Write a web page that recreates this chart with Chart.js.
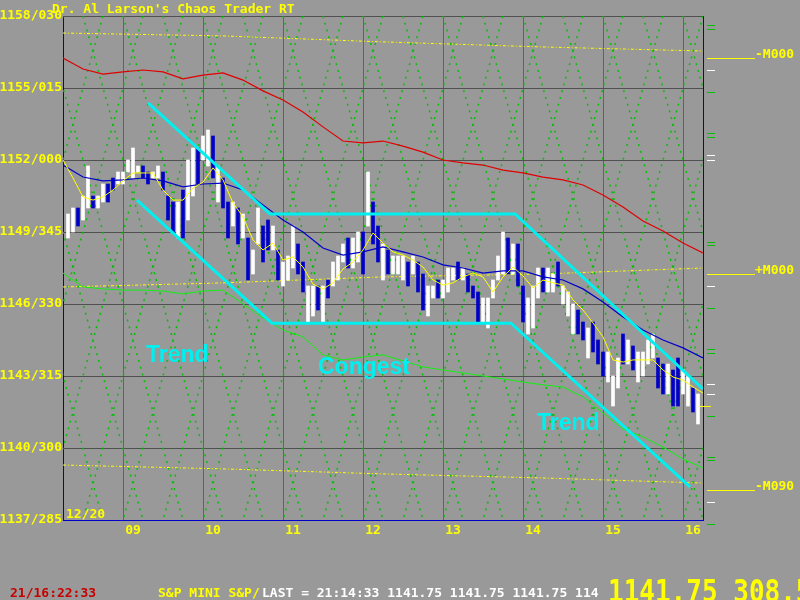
<!DOCTYPE html>
<html lang="en">
<head>
<meta charset="UTF-8">
<title>Chaos Trader RT - S&amp;P Mini</title>
<script src="https://cdn.jsdelivr.net/npm/chart.js@4.4.1/dist/chart.umd.min.js"></script>
<style>
    body { margin: 0; background-color: #999999; }
    #wrap { width: 800px; height: 600px; }
</style>
</head>
<body>
<div id="wrap"><canvas id="chaosChart" width="800" height="600"></canvas></div>
<script>
    // axis ticks (x = day of month)
    var dayTicks = [9, 10, 11, 12, 13, 14, 15, 16];
    var dayLabels = ['09', '10', '11', '12', '13', '14', '15', '16'];
    var priceTicks = [1137, 1140, 1143, 1146, 1149, 1152, 1155, 1158];
    var priceLabels = ['1137/285', '1140/300', '1143/315', '1146/330', '1149/345', '1152/000', '1155/015', '1158/030'];

    // price bars, one every 1.5 hours
    var barStart = 8.3125, barStep = 0.0625;
    var highs = [1149.75, 1150.0, 1150.0, 1150.5, 1151.75, 1150.5, 1150.5, 1151.0, 1151.0, 1151.25,
        1151.5, 1151.5, 1152.0, 1152.5, 1151.75, 1151.75, 1151.5, 1151.5, 1151.75, 1151.5,
        1150.5, 1150.25, 1150.25, 1150.75, 1152.0, 1152.5, 1152.5, 1153.0, 1153.25, 1153.0,
        1151.75, 1151.25, 1150.25, 1150.25, 1150.0, 1149.75, 1148.75, 1148.25, 1150.0, 1149.25,
        1149.5, 1149.25, 1148.25, 1147.75, 1148.0, 1149.25, 1148.5, 1147.75, 1146.75, 1146.75,
        1146.75, 1146.75, 1147.0, 1147.75, 1148.0, 1148.5, 1148.75, 1148.75, 1149.0, 1149.0,
        1151.5, 1150.25, 1149.25, 1148.5, 1148.25, 1148.0, 1148.0, 1148.0, 1147.75, 1148.0,
        1147.75, 1147.25, 1146.75, 1146.75, 1147.0, 1147.0, 1147.5, 1147.5, 1147.75, 1147.5,
        1147.25, 1146.75, 1146.5, 1146.25, 1146.25, 1147.0, 1148.0, 1149.0, 1148.75, 1148.5,
        1148.5, 1146.75, 1146.25, 1146.75, 1147.5, 1147.5, 1147.5, 1147.25, 1147.75, 1146.75,
        1146.5, 1146.0, 1145.75, 1145.25, 1145.0, 1145.25, 1144.5, 1144.0, 1144.0, 1143.0,
        1143.75, 1144.75, 1144.5, 1144.25, 1144.0, 1144.0, 1144.5, 1144.75, 1143.75, 1143.5,
        1143.5, 1143.25, 1143.75, 1143.25, 1143.0, 1142.5, 1142.25];
    var lows = [1148.75, 1149.0, 1149.25, 1149.5, 1150.0, 1150.0, 1150.0, 1150.25, 1150.25, 1150.75,
        1151.0, 1151.0, 1151.5, 1151.25, 1151.5, 1151.25, 1151.0, 1151.25, 1151.25, 1150.75,
        1149.5, 1149.0, 1148.75, 1148.75, 1149.5, 1150.5, 1151.0, 1152.0, 1151.75, 1151.25,
        1150.25, 1150.0, 1148.75, 1149.25, 1148.5, 1148.75, 1147.0, 1147.25, 1148.5, 1147.75,
        1148.25, 1148.25, 1147.0, 1146.75, 1147.0, 1147.5, 1147.25, 1146.5, 1145.25, 1145.5,
        1145.75, 1145.25, 1146.25, 1146.75, 1147.0, 1147.75, 1147.5, 1147.5, 1147.75, 1147.25,
        1149.25, 1148.5, 1147.75, 1147.0, 1147.25, 1147.25, 1147.25, 1147.0, 1146.75, 1147.25,
        1146.5, 1145.75, 1145.5, 1146.25, 1146.25, 1146.25, 1146.5, 1147.0, 1147.0, 1147.0,
        1146.5, 1146.25, 1145.25, 1145.25, 1145.0, 1146.25, 1147.0, 1147.25, 1147.25, 1147.25,
        1146.75, 1145.25, 1144.75, 1145.0, 1146.25, 1146.5, 1146.5, 1146.5, 1146.75, 1146.0,
        1145.5, 1144.75, 1144.75, 1144.5, 1143.75, 1144.0, 1143.5, 1143.0, 1142.75, 1141.75,
        1142.5, 1143.5, 1143.5, 1143.25, 1142.75, 1143.0, 1143.5, 1143.75, 1142.5, 1142.25,
        1142.25, 1141.75, 1141.75, 1142.25, 1141.75, 1141.5, 1141.0];
    // 1 = up bar (white), 0 = down bar (blue)
    var upBars = [1, 1, 0, 1, 1, 0, 1, 1, 0, 0,
        1, 1, 1, 1, 1, 0, 0, 1, 1, 0,
        0, 0, 1, 0, 1, 1, 0, 1, 1, 0,
        1, 0, 0, 1, 0, 1, 0, 1, 1, 0,
        0, 1, 0, 1, 1, 1, 0, 0, 1, 1,
        0, 1, 0, 1, 1, 1, 0, 1, 1, 0,
        1, 0, 0, 1, 0, 1, 1, 1, 0, 1,
        0, 0, 1, 1, 0, 1, 1, 1, 0, 1,
        0, 0, 0, 1, 1, 1, 1, 1, 0, 1,
        0, 0, 1, 1, 1, 0, 1, 1, 0, 1,
        1, 1, 0, 0, 1, 0, 0, 0, 1, 1,
        1, 0, 1, 0, 1, 1, 1, 1, 0, 0,
        1, 0, 0, 1, 1, 0, 1];

    // averages, slow ones sampled every 6 hours, fast one every 3 hours
    var avgStart = 8.25, slowStep = 0.25, fastStep = 0.125;
    var redAvg = [1156.25, 1155.79, 1155.58, 1155.67, 1155.75, 1155.67, 1155.38, 1155.54, 1155.63, 1155.33,
        1154.88, 1154.5, 1154.0, 1153.38, 1152.79, 1152.71, 1152.79, 1152.58, 1152.33, 1152.0,
        1151.88, 1151.79, 1151.58, 1151.46, 1151.29, 1151.17, 1150.96, 1150.54, 1150.04, 1149.46,
        1149.04, 1148.54, 1148.13];
    var blueAvg = [1151.79, 1151.29, 1151.13, 1151.17, 1151.25, 1151.13, 1150.88, 1151.0, 1151.04, 1150.75,
        1150.13, 1149.5, 1149.0, 1148.33, 1148.04, 1148.17, 1148.38, 1148.17, 1147.96, 1147.63,
        1147.5, 1147.29, 1147.38, 1147.38, 1147.13, 1147.0, 1146.63, 1146.08, 1145.46, 1144.92,
        1144.5, 1144.17, 1143.75];
    var greenLine = [1147.29, 1146.71, 1146.63, 1146.58, 1146.58, 1146.54, 1146.42, 1146.54, 1146.58, 1146.0,
        1145.42, 1144.92, 1144.63, 1143.88, 1143.67, 1143.79, 1143.88, 1143.63, 1143.38, 1143.25,
        1143.13, 1143.0, 1142.88, 1142.75, 1142.63, 1142.54, 1142.13, 1141.46, 1140.79, 1140.46,
        1140.04, 1139.54, 1139.17];
    var yellowAvg = [1152.0, 1151.25, 1150.46, 1150.33, 1150.46, 1150.75, 1151.13, 1151.46, 1151.46, 1151.46,
        1150.75, 1150.33, 1150.33, 1150.83, 1151.08, 1151.67, 1151.17, 1150.21, 1149.63, 1148.67,
        1148.25, 1148.54, 1147.83, 1147.96, 1147.54, 1146.83, 1146.63, 1146.88, 1147.46, 1147.75,
        1148.25, 1148.96, 1148.54, 1148.17, 1148.04, 1147.83, 1147.54, 1147.0, 1146.79, 1146.88,
        1147.13, 1147.29, 1147.13, 1146.5, 1147.13, 1147.54, 1147.17, 1146.67, 1147.0, 1146.88,
        1146.79, 1146.17, 1145.75, 1145.21, 1144.63, 1143.67, 1143.58, 1143.67, 1143.67, 1143.67,
        1143.25, 1142.96, 1142.83, 1142.54, 1142.29];

    // dotted harmonic levels
    var harmTimes = [8.25, 10.25, 12.25, 14.25, 16.25];
    var harmTop = [1157.29, 1157.17, 1156.92, 1156.71, 1156.54];
    var harmMid = [1146.71, 1146.88, 1147.13, 1147.25, 1147.5];
    var harmLow = [1139.29, 1139.13, 1138.92, 1138.75, 1138.54];

    // trend channel
    var chanTopTimes = [9.3125, 10.8375, 13.9, 16.25];
    var chanTopPrices = [1154.38, 1149.75, 1149.75, 1142.46];
    var chanLowTimes = [9.175, 10.8625, 13.85, 16.0875];
    var chanLowPrices = [1150.33, 1145.2, 1145.2, 1138.38];

    // notes on the chart
    var noteTexts = ['Trend', 'Congest', 'Trend'];
    var noteTimes = [9.2875, 11.4375, 14.175];
    var notePrices = [1143.58, 1143.08, 1140.75];

    // right side levels
    var mLevels = [1156.25, 1147.25, 1138.25];
    var mLabels = ['-M000', '+M000', '-M090'];
    var greenMarks = [1157.63, 1157.46, 1154.83, 1153.13, 1152.96, 1148.58, 1148.46, 1145.83, 1144.13, 1143.96, 1141.33, 1139.63, 1139.5, 1136.83];
    var whiteMarks = [1155.75, 1152.21, 1152.0, 1146.75, 1142.67, 1142.25, 1137.75];
    var lastPrice = 1141.75;

    var titleText = "Dr. Al Larson's Chaos Trader RT";
    var dateStamp = '12/20';
    var clockText = '21/16:22:33';
    var symbolText = 'S&P MINI S&P/';
    var quoteText = 'LAST = 21:14:33 1141.75 1141.75 1141.75 114';
    var bigQuote = '1141.75 308.5';

    var mono = 'DejaVu Sans Mono, monospace';
    var yellow = '#ffff00';

    function series(start, step, values) {
        return values.map(function(v, i) { return {x: start + i * step, y: v}; });
    }
    function pairs(times, values) {
        return times.map(function(t, i) { return {x: t, y: values[i]}; });
    }
    function lineSet(data, color, width, order, dash) {
        return {type: 'line', data: data, borderColor: color, borderWidth: width, borderDash: dash || [],
            pointRadius: 0, tension: 0, fill: false, order: order};
    }

    var barData = highs.map(function(h, i) { return {x: barStart + i * barStep, y: [lows[i], h]}; });

    // background lattice and all the screen text
    var decor = {
        id: 'decor',
        beforeDatasetsDraw: function(chart) {
            var ctx = chart.ctx, a = chart.chartArea;
            var run = (a.bottom - a.top) / 3.6;
            ctx.save();
            ctx.beginPath();
            ctx.rect(a.left, a.top, a.right - a.left, a.bottom - a.top);
            ctx.clip();
            ctx.strokeStyle = '#00c000';
            ctx.lineWidth = 1.5;
            ctx.setLineDash([2, 5]);
            for (var x = a.left - run; x < a.right + run; x += 40) {
                ctx.beginPath(); ctx.moveTo(x, a.top); ctx.lineTo(x + run, a.bottom); ctx.stroke();
                ctx.beginPath(); ctx.moveTo(x + 20, a.top); ctx.lineTo(x + 20 - run, a.bottom); ctx.stroke();
            }
            ctx.restore();
        },
        afterDraw: function(chart) {
            var ctx = chart.ctx, a = chart.chartArea, ys = chart.scales.y, xs = chart.scales.x;
            ctx.save();
            // right border
            ctx.strokeStyle = '#0000c8';
            ctx.lineWidth = 1;
            ctx.beginPath(); ctx.moveTo(a.right + 0.5, a.top); ctx.lineTo(a.right + 0.5, a.bottom); ctx.stroke();

            // small marks right of the chart
            greenMarks.forEach(function(p) {
                var y = Math.round(ys.getPixelForValue(p)) + 0.5;
                ctx.strokeStyle = '#00c000';
                ctx.beginPath(); ctx.moveTo(a.right + 4, y); ctx.lineTo(a.right + 12, y); ctx.stroke();
            });
            whiteMarks.forEach(function(p) {
                var y = Math.round(ys.getPixelForValue(p)) + 0.5;
                ctx.strokeStyle = '#ffffff';
                ctx.beginPath(); ctx.moveTo(a.right + 4, y); ctx.lineTo(a.right + 12, y); ctx.stroke();
            });

            // M levels
            ctx.font = 'bold 13px ' + mono;
            ctx.textBaseline = 'alphabetic';
            ctx.textAlign = 'left';
            mLevels.forEach(function(p, i) {
                var y = Math.round(ys.getPixelForValue(p)) + 0.5;
                ctx.strokeStyle = yellow;
                ctx.beginPath(); ctx.moveTo(a.right + 4, y); ctx.lineTo(a.right + 52, y); ctx.stroke();
                ctx.fillStyle = yellow;
                ctx.fillText(mLabels[i], a.right + 52, y - 1);
            });

            // last price tick
            var ly = Math.round(ys.getPixelForValue(lastPrice)) + 0.5;
            ctx.strokeStyle = yellow;
            ctx.beginPath(); ctx.moveTo(a.right - 3, ly); ctx.lineTo(a.right + 8, ly); ctx.stroke();

            // chart notes
            ctx.fillStyle = '#00f0f0';
            ctx.font = 'bold 23px "Liberation Sans", Arial, sans-serif';
            noteTexts.forEach(function(t, i) {
                ctx.fillText(t, xs.getPixelForValue(noteTimes[i]), ys.getPixelForValue(notePrices[i]));
            });

            // title, date, status line
            ctx.font = 'bold 13px ' + mono;
            ctx.fillStyle = yellow;
            ctx.fillText(titleText, 52, 13);
            ctx.fillText(dateStamp, a.left + 3, a.bottom - 2);
            ctx.fillStyle = '#c80000';
            ctx.fillText(clockText, 10, 597);
            ctx.fillStyle = yellow;
            ctx.fillText(symbolText, 158, 597);
            ctx.fillStyle = '#ffffff';
            ctx.fillText(quoteText, 262, 597);
            ctx.fillStyle = yellow;
            ctx.font = 'bold 26px ' + mono;
            ctx.translate(608, 602);
            ctx.scale(1, 1.2);
            ctx.fillText(bigQuote, 0, 0);
            ctx.restore();
        }
    };

    var ctx = document.getElementById('chaosChart').getContext('2d');
    var chaosChart = new Chart(ctx, {
        type: 'line',
        data: {
            datasets: [
                lineSet(pairs(harmTimes, harmTop), yellow, 1, 20, [3, 2, 1, 2]),
                lineSet(pairs(harmTimes, harmMid), yellow, 1, 20, [3, 2, 1, 2]),
                lineSet(pairs(harmTimes, harmLow), yellow, 1, 20, [3, 2, 1, 2]),
                lineSet(series(avgStart, slowStep, greenLine), '#10f010', 1, 15),
                {
                    type: 'bar',
                    data: barData,
                    backgroundColor: upBars.map(function(u) { return u ? '#ffffff' : '#0000c8'; }),
                    borderWidth: 0,
                    barThickness: 3,
                    grouped: false,
                    order: 10
                },
                lineSet(series(avgStart, slowStep, blueAvg), '#0000c8', 1.2, 6),
                lineSet(series(avgStart, fastStep, yellowAvg), yellow, 1, 5),
                lineSet(series(avgStart, slowStep, redAvg), '#e00000', 1.2, 5),
                lineSet(pairs(chanTopTimes, chanTopPrices), '#00f0f0', 3, 1),
                lineSet(pairs(chanLowTimes, chanLowPrices), '#00f0f0', 3, 1)
            ]
        },
        options: {
            responsive: false,
            animation: false,
            devicePixelRatio: 1,
            layout: {padding: {top: 16, right: 97, left: 0, bottom: 0}},
            plugins: {legend: {display: false}, tooltip: {enabled: false}},
            scales: {
                x: {
                    type: 'linear',
                    min: 8.25,
                    max: 16.25,
                    offset: false,
                    afterBuildTicks: function(scale) {
                        scale.ticks = dayTicks.map(function(v) { return {value: v}; });
                    },
                    afterFit: function(scale) {
                        scale.height = 80;
                        scale.paddingLeft = 0;
                        scale.paddingRight = 0;
                    },
                    grid: {color: '#00a800', lineWidth: 1, drawTicks: false, offset: false},
                    border: {color: '#0000c8', width: 1},
                    ticks: {
                        color: yellow,
                        font: {family: mono, size: 13, weight: 'bold'},
                        padding: 3,
                        labelOffset: 10,
                        autoSkip: false,
                        maxRotation: 0,
                        callback: function(v) { return dayLabels[dayTicks.indexOf(v)]; }
                    }
                },
                y: {
                    type: 'linear',
                    min: 1137,
                    max: 1158,
                    afterBuildTicks: function(scale) {
                        scale.ticks = priceTicks.map(function(v) { return {value: v}; });
                    },
                    afterFit: function(scale) {
                        scale.width = 63;
                        scale.paddingTop = 0;
                        scale.paddingBottom = 0;
                    },
                    grid: {color: '#505050', lineWidth: 1, drawTicks: false},
                    border: {color: '#0000c8', width: 1},
                    ticks: {
                        color: yellow,
                        font: {family: mono, size: 13, weight: 'bold'},
                        padding: 1,
                        callback: function(v) { return priceLabels[priceTicks.indexOf(v)]; }
                    }
                }
            }
        },
        plugins: [decor]
    });
</script>
</body>
</html>
